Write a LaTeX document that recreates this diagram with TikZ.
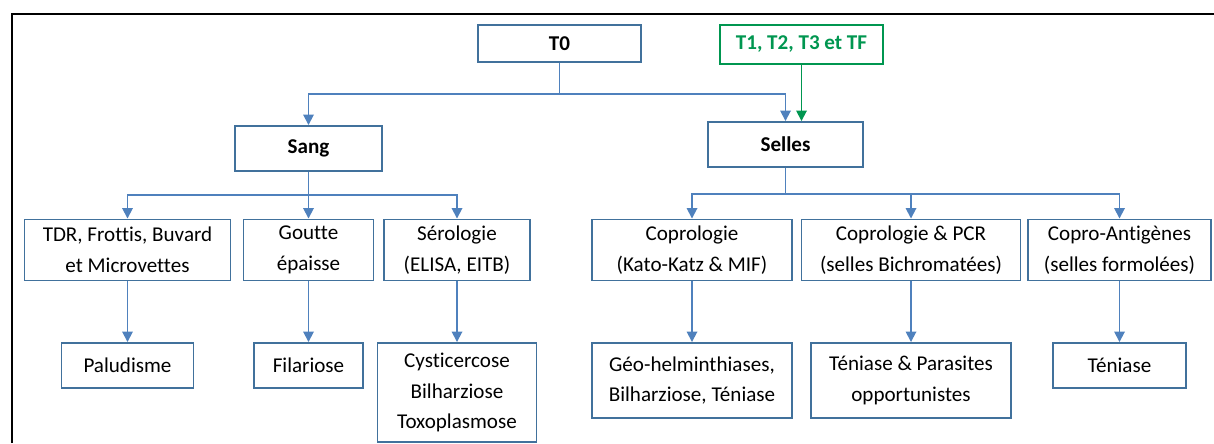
\documentclass[tikz,border=0pt]{standalone}
\usepackage{fontspec}
\setmainfont{Carlito}[Ligatures=NoCommon]
\usetikzlibrary{arrows.meta}
\definecolor{boxblue}{RGB}{65,113,156}
\definecolor{lineblue}{RGB}{79,129,189}
\definecolor{tgreen}{RGB}{0,150,80}

\begin{document}
\begin{tikzpicture}[x=0.02cm,y=-0.02cm,
box/.style={draw=boxblue,line width=1.1pt,align=center,inner sep=0pt,
font=\fontsize{12}{17.5}\selectfont,minimum height=0.9cm},
greenbox/.style={box,draw=tgreen,text=tgreen,font=\fontsize{12}{17.5}\selectfont\bfseries},
flow/.style={-{Triangle[length=0.21cm,width=0.21cm]},draw=lineblue,line width=1pt},
greenflow/.style={flow,draw=tgreen}]
\useasboundingbox (0,0) rectangle (1214,443);
\draw[line width=1.1pt] (12,443) -- (12,14) -- (1214,14);
% top level
\node[box,font=\fontsize{12}{17.5}\selectfont\bfseries,minimum width=3.26cm,minimum height=0.74cm] (t0) at (559.5,43.5) {T0};
\node[greenbox,minimum width=3.26cm,minimum height=0.78cm] (tsuivi) at (801.5,44.5) {T1, T2, T3 et TF};
\node[box,font=\fontsize{12}{17.5}\selectfont\bfseries,minimum width=2.94cm] (sang) at (308.5,148.5) {Sang};
\node[box,font=\fontsize{12}{17.5}\selectfont\bfseries,minimum width=3.1cm] (selles) at (785.5,144.5) {Selles};
% techniques
\node[box,minimum width=4.12cm,minimum height=1.22cm] (tdr) at (127.5,250) {TDR, Frottis, Buvard\\et Microvettes};
\node[box,minimum width=2.6cm,minimum height=1.22cm] (goutte) at (308.5,250) {Goutte\\épaisse};
\node[box,minimum width=2.92cm,minimum height=1.22cm] (sero) at (457,250) {Sérologie\\(ELISA, EITB)};
\node[box,minimum width=4cm,minimum height=1.22cm] (copro) at (692,250) {Coprologie\\(Kato-Katz \& MIF)};
\node[box,minimum width=4.38cm,minimum height=1.22cm] (pcr) at (911,250) {Coprologie \& PCR\\(selles Bichromatées)};
\node[box,minimum width=3.66cm,minimum height=1.22cm] (antigen) at (1119.5,250) {Copro-Antigènes\\(selles formolées)};
% pathologies
\node[box,minimum width=2.64cm] (palu) at (127.5,365.5) {Paludisme};
\node[box,minimum width=2.18cm] (filaire) at (308.5,365.5) {Filariose};
\node[box,minimum width=3.18cm,minimum height=1.98cm] (cysti) at (457,392.5) {Cysticercose\\Bilharziose\\Toxoplasmose};
\node[box,minimum width=4cm,minimum height=1.5cm] (geo) at (692,380.5) {Géo-helminthiases,\\Bilharziose, Téniase};
\node[box,minimum width=4cm,minimum height=1.5cm] (teniap) at (911,380.5) {Téniase \& Parasites\\opportunistes};
\node[box,minimum width=2.66cm] (tenia) at (1119.5,365.5) {Téniase};
% connectors
\draw[flow] (t0.south) -- ++(0,31) -| (sang.north);
\draw[flow] (t0.south) -- ++(0,31) -| (selles.north);
\draw[greenflow] (tsuivi.south) -- (tsuivi.south |- selles.north);
\draw[flow] (sang.south) -- ++(0,23) -| (tdr.north);
\draw[flow] (sang.south) -- ++(0,23) -| (goutte.north);
\draw[flow] (sang.south) -- ++(0,23) -| (sero.north);
\draw[flow] (selles.south) -- ++(0,26) -| (copro.north);
\draw[flow] (selles.south) -- ++(0,26) -| (pcr.north);
\draw[flow] (selles.south) -- ++(0,26) -| (antigen.north);
\draw[flow] (tdr.south) -- (palu.north);
\draw[flow] (goutte.south) -- (filaire.north);
\draw[flow] (sero.south) -- (cysti.north);
\draw[flow] (copro.south) -- (geo.north);
\draw[flow] (pcr.south) -- (teniap.north);
\draw[flow] (antigen.south) -- (tenia.north);
\end{tikzpicture}
\end{document}
